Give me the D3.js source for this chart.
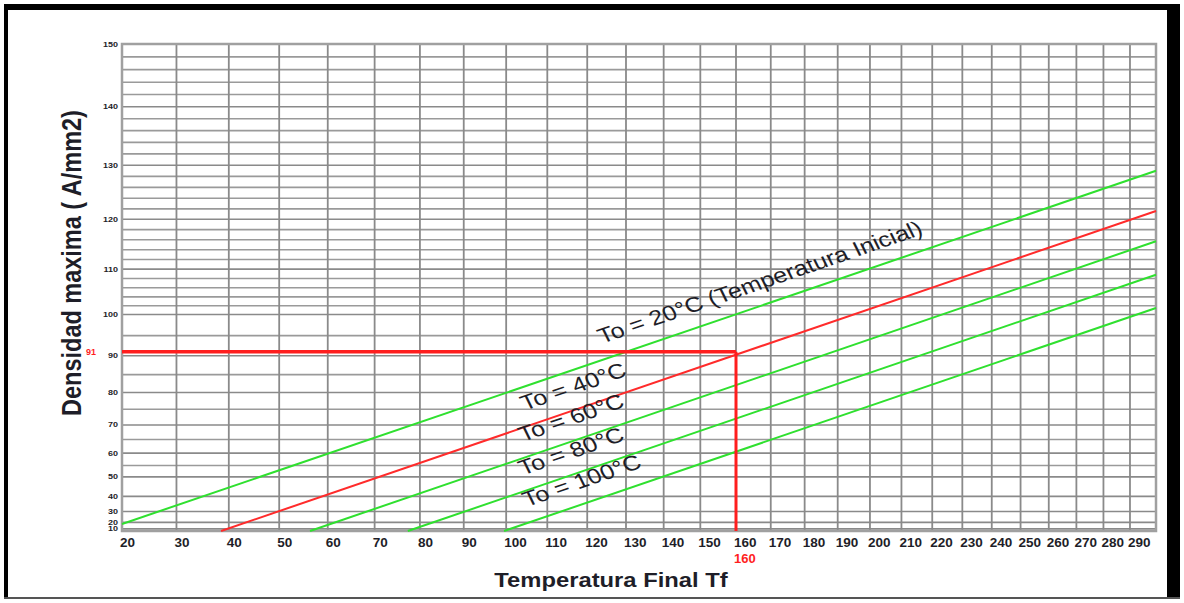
<!DOCTYPE html>
<html>
<head>
<meta charset="utf-8">
<script src="https://cdn.jsdelivr.net/npm/d3@7"></script>
<style>
  html, body { margin: 0; padding: 0; background: #fff; }
  svg { display: block; font-family: "Liberation Sans", Arial, sans-serif; }
</style>
</head>
<body>
<svg id="chart" width="1184" height="603"></svg>
<script>
// one straight line per initial temperature To, read at its two ends (Tf, J)
const initialTemps = [20, 40, 60, 80, 100]
const startTf = [20, 38.5, 56.3, 77.3, 99.5]
const startJ = [18, 0, 0, 0, 0]
const endTf = [300, 300, 300, 300, 300]
const endJ = [129, 121.6, 115.7, 108.8, 101.5]
const curveLabels = ['To = 20°C (Temperatura Inicial)', 'To = 40°C', 'To = 60°C', 'To = 80°C', 'To = 100°C']
const labelTf = [127, 107.5, 107, 107, 108]

const xTickValues = [20, 30, 40, 50, 60, 70, 80, 90, 100, 110, 120, 130, 140, 150, 160,
  170, 180, 190, 200, 210, 220, 230, 240, 250, 260, 270, 280, 290]
const xGridValues = xTickValues.concat([300])
const yTickValues = [10, 20, 30, 40, 50, 60, 70, 80, 90, 100, 110, 120, 130, 140, 150]
const yMinorValues = [55, 65, 75, 85, 95, 102, 104, 106, 108, 112, 114, 116, 118,
  122, 124, 126, 128, 132, 134, 136, 138, 142, 144, 146, 148]

// worked example drawn in red
const readTf = 160
const readJ = 91

const lineColors = ['#2fe02f', '#ff2b2b', '#2fe02f', '#2fe02f', '#2fe02f']
const gridColor = '#8a8a8a'
const textColor = '#1e1e28'
const red = '#ff1e1e'

const svg = d3.select('#chart')

const plotLeft = 122, plotRight = 1156, plotTop = 44, plotBottom = 531

// Tf axis is logarithmic in (Tf + k), J axis is linear in J^2
const k = 222
const xLog = d3.scaleLog().domain([20 + k, 300 + k]).range([plotLeft, plotRight])
const x = t => xLog(t + k)
const y = d3.scalePow().exponent(2).domain([0, 150]).range([plotBottom, plotTop])

// frame around the picture
svg.append('rect').attr('x', 4).attr('y', 4).attr('width', 1168).attr('height', 6).attr('fill', '#000')
svg.append('rect').attr('x', 4).attr('y', 4).attr('width', 4).attr('height', 595).attr('fill', '#000')
svg.append('rect').attr('x', 1167).attr('y', 4).attr('width', 13).attr('height', 595).attr('fill', '#000')
svg.append('rect').attr('x', 4).attr('y', 597).attr('width', 1176).attr('height', 2).attr('fill', '#555')

const grid = svg.append('g').attr('class', 'grid')

grid.selectAll('line.minor')
  .data(yMinorValues)
  .join('line')
    .attr('class', 'minor')
    .attr('x1', plotLeft).attr('x2', plotRight)
    .attr('y1', d => y(d)).attr('y2', d => y(d))
    .attr('stroke', '#9a9a9a')
    .attr('stroke-width', 1.6)

grid.selectAll('line.major')
  .data(yTickValues)
  .join('line')
    .attr('class', 'major')
    .attr('x1', plotLeft).attr('x2', plotRight)
    .attr('y1', d => y(d)).attr('y2', d => y(d))
    .attr('stroke', gridColor)
    .attr('stroke-width', 1.6)

grid.selectAll('line.vert')
  .data(xGridValues)
  .join('line')
    .attr('class', 'vert')
    .attr('x1', d => x(d)).attr('x2', d => x(d))
    .attr('y1', plotTop).attr('y2', plotBottom)
    .attr('stroke', gridColor)
    .attr('stroke-width', 1.8)

svg.append('rect')
    .attr('x', plotLeft).attr('y', plotTop)
    .attr('width', plotRight - plotLeft).attr('height', plotBottom - plotTop)
    .attr('fill', 'none')
    .attr('stroke', '#a0a0a0')
    .attr('stroke-width', 2.5)

// tick labels
svg.append('g')
  .selectAll('text')
  .data(xTickValues)
  .join('text')
    .attr('x', d => x(d) - 2)
    .attr('y', 547)
    .attr('font-size', 13.5)
    .attr('font-weight', 'bold')
    .attr('fill', textColor)
    .text(d => d)

svg.append('g')
  .selectAll('text')
  .data(yTickValues)
  .join('text')
    .attr('transform', d => `translate(118,${y(d) + 2.5}) scale(1.2,1)`)
    .attr('text-anchor', 'end')
    .attr('font-size', 7.5)
    .attr('font-weight', 'bold')
    .attr('fill', textColor)
    .text(d => d)

// curves
const curves = initialTemps.map((to, i) => ({
  to,
  a: [x(startTf[i]), y(startJ[i])],
  b: [x(endTf[i]), y(endJ[i])],
  color: lineColors[i],
  label: curveLabels[i],
  labelTf: labelTf[i],
}))

svg.append('g')
  .selectAll('line')
  .data(curves)
  .join('line')
    .attr('x1', d => d.a[0]).attr('y1', d => d.a[1])
    .attr('x2', d => d.b[0]).attr('y2', d => d.b[1])
    .attr('stroke', d => d.color)
    .attr('stroke-width', 2)

// labels sit just above their line, text a little wider than tall
const sx = 1.2
svg.append('g')
  .selectAll('text')
  .data(curves)
  .join('text')
    .attr('transform', d => {
      const slope = (d.b[1] - d.a[1]) / (d.b[0] - d.a[0])
      const px = x(d.labelTf)
      const py = d.a[1] + slope * (px - d.a[0])
      const phi = Math.atan(slope * sx) * 180 / Math.PI
      return `translate(${px},${py}) scale(${sx},1) rotate(${phi})`
    })
    .attr('y', -15)
    .attr('x', -5)
    .attr('font-size', 21)
    .attr('fill', textColor)
    .text(d => d.label)

// red reading lines
const reading = svg.append('g')

reading.append('line')
    .attr('x1', plotLeft).attr('x2', x(readTf))
    .attr('y1', y(readJ)).attr('y2', y(readJ))
    .attr('stroke', red)
    .attr('stroke-width', 3.5)

reading.append('line')
    .attr('x1', x(readTf)).attr('x2', x(readTf))
    .attr('y1', y(readJ)).attr('y2', plotBottom)
    .attr('stroke', red)
    .attr('stroke-width', 3)

reading.append('text')
    .attr('x', 96).attr('y', y(readJ) + 3)
    .attr('text-anchor', 'end')
    .attr('font-size', 9)
    .attr('font-weight', 'bold')
    .attr('fill', red)
    .text(readJ)

reading.append('text')
    .attr('x', x(readTf) - 2).attr('y', 563)
    .attr('font-size', 13)
    .attr('font-weight', 'bold')
    .attr('fill', red)
    .text(readTf)

// axis titles
svg.append('text')
    .attr('transform', 'translate(611,587) scale(1.22,1)')
    .attr('text-anchor', 'middle')
    .attr('font-size', 19.5)
    .attr('font-weight', 'bold')
    .attr('fill', textColor)
    .text('Temperatura Final Tf')

svg.append('text')
    .attr('transform', 'translate(81,263) scale(1.2,1) rotate(-90)')
    .attr('text-anchor', 'middle')
    .attr('font-size', 23.5)
    .attr('font-weight', 'bold')
    .attr('fill', textColor)
    .text('Densidad maxima ( A/mm2)')
</script>
</body>
</html>
